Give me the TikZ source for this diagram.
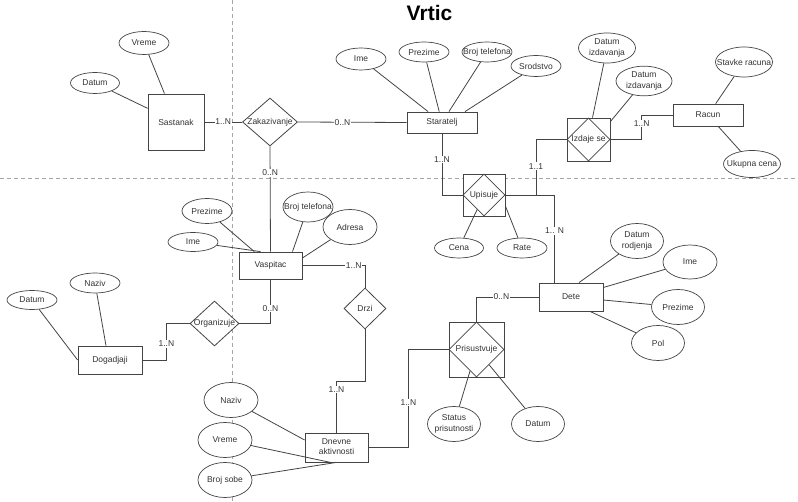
\documentclass[tikz,border=0pt]{standalone}
\usepackage{fontspec}
\setmainfont{Liberation Sans}
\usetikzlibrary{shapes.geometric,calc}
\definecolor{txt}{HTML}{333333}
\definecolor{ln}{HTML}{444444}
\newcommand{\twol}[2]{\makebox[0pt]{\begin{tabular}{@{}c@{}}#1\\#2\end{tabular}}}
\newcommand{\zb}[1]{\makebox[0pt]{#1}}
\begin{document}
\begin{tikzpicture}[x=1pt,y=-1pt,
  every node/.style={font=\fontsize{8.5}{10.5}\selectfont, text=txt},
  ent/.style={draw=ln, fill=white, rectangle, inner sep=0pt, line width=0.8pt},
  attr/.style={draw=ln, fill=white, ellipse, inner sep=0pt, line width=0.7pt},
  rel/.style={draw=ln, fill=white, diamond, inner sep=0pt, aspect=1, line width=0.8pt},
  wbox/.style={draw=ln, fill=white, rectangle, inner sep=0pt, line width=0.8pt},
  lbl/.style={fill=white, inner sep=0.8pt},
  conn/.style={draw=ln, line width=0.8pt},
  gridline/.style={draw=black!35, dash pattern=on 4pt off 3pt, line width=0.6pt}
]
\useasboundingbox (0,0) rectangle (798,502);
% guide lines
\draw[gridline] (232,0) -- (232,502);
\draw[gridline] (0,178) -- (798,178);
% title
\node[font=\bfseries\fontsize{21}{24}\selectfont, text=black, anchor=base] (title) at (429.5,20.7) {Vrtic};
% entities
\node[ent, minimum width=56pt, minimum height=56pt] (sastanak) at (176,122) {Sastanak};
\node[ent, minimum width=70pt, minimum height=21pt] (staratelj) at (442,122.5) {Staratelj};
\node[ent, minimum width=70pt, minimum height=22pt] (racun) at (708,115) {Racun};
\node[ent, minimum width=63pt, minimum height=27pt] (vaspitac) at (270.5,265.5) {Vaspitac};
\node[ent, minimum width=64pt, minimum height=28pt] (dete) at (571,297) {Dete};
\node[ent, minimum width=64pt, minimum height=28pt] (dogadjaji) at (110,360) {Dogadjaji};
\node[ent, minimum width=63pt, minimum height=29pt] (dnevne) at (336.5,447.5) {\twol{Dnevne}{aktivnosti}};
% relationships
\node[rel, minimum width=55pt, minimum height=48pt] (zak) at (270,122) {\zb{Zakazivanje}};
\node[rel, minimum width=42pt, minimum height=41pt] (drzi) at (365,308.5) {\zb{Drzi}};
\node[rel, minimum width=49pt, minimum height=45pt] (org) at (214.5,323.5) {\zb{Organizuje}};
\node[wbox, minimum width=43pt, minimum height=43pt] (izdajeB) at (588.5,139.5) {};
\node[rel, fill=none, minimum width=43pt, minimum height=43pt] (izdaje) at (izdajeB) {\zb{Izdaje se}};
\node[wbox, minimum width=42pt, minimum height=42pt] (upisujeB) at (484,195) {};
\node[rel, fill=none, minimum width=42pt, minimum height=42pt] (upisuje) at (upisujeB) {\zb{Upisuje}};
\node[wbox, minimum width=55pt, minimum height=55pt] (prisB) at (476.5,349.5) {};
\node[rel, fill=none, minimum width=55pt, minimum height=55pt] (pris) at (prisB) {\zb{Prisustvuje}};
% attributes
\node[attr, minimum width=50pt, minimum height=23pt] (a1) at (144,43) {\zb{Vreme}};
\node[attr, minimum width=49pt, minimum height=21pt] (a2) at (95,83) {\zb{Datum}};
\node[attr, minimum width=50pt, minimum height=22pt] (a3) at (361,59) {\zb{Ime}};
\node[attr, minimum width=50pt, minimum height=20pt] (a4) at (424,52) {\zb{Prezime}};
\node[attr, minimum width=50pt, minimum height=20pt] (a5) at (487,52) {\zb{Broj telefona}};
\node[attr, minimum width=50pt, minimum height=21pt] (a6) at (536,66) {\zb{Srodstvo}};
\node[attr, minimum width=57pt, minimum height=30pt] (a7) at (607,48) {\twol{Datum}{izdavanja}};
\node[attr, minimum width=56pt, minimum height=26pt] (a8) at (644,81) {\twol{Datum}{izdavanja}};
\node[attr, minimum width=57pt, minimum height=30pt] (a9) at (744,62) {\zb{Stavke racuna}};
\node[attr, minimum width=57pt, minimum height=27pt] (a10) at (752,164) {\zb{Ukupna cena}};
\node[attr, minimum width=50pt, minimum height=25pt] (a11) at (207,211) {\zb{Prezime}};
\node[attr, minimum width=50pt, minimum height=19pt] (a12) at (193,242) {\zb{Ime}};
\node[attr, minimum width=50pt, minimum height=30pt] (a13) at (308,207) {\zb{Broj telefona}};
\node[attr, minimum width=54pt, minimum height=35pt] (a14) at (350,227) {\zb{Adresa}};
\node[attr, minimum width=50pt, minimum height=19pt] (a15) at (32,300) {\zb{Datum}};
\node[attr, minimum width=50pt, minimum height=20pt] (a16) at (95,283) {\zb{Naziv}};
\node[attr, minimum width=49pt, minimum height=20pt] (a17) at (459,248) {\zb{Cena}};
\node[attr, minimum width=50pt, minimum height=20pt] (a18) at (522,248) {\zb{Rate}};
\node[attr, minimum width=53pt, minimum height=35pt] (a19) at (637,241) {\twol{Datum}{rodjenja}};
\node[attr, minimum width=54pt, minimum height=34pt] (a20) at (690,262) {\zb{Ime}};
\node[attr, minimum width=53pt, minimum height=35pt] (a21) at (678,307) {\zb{Prezime}};
\node[attr, minimum width=53pt, minimum height=35pt] (a22) at (658,343) {\zb{Pol}};
\node[attr, minimum width=54pt, minimum height=35pt] (a23) at (231,400) {\zb{Naziv}};
\node[attr, minimum width=54pt, minimum height=35pt] (a24) at (225,440) {\zb{Vreme}};
\node[attr, minimum width=54pt, minimum height=35pt] (a25) at (225,480) {\zb{Broj sobe}};
\node[attr, minimum width=53pt, minimum height=35pt] (a26) at (454,424) {\twol{Status}{prisutnosti}};
\node[attr, minimum width=53pt, minimum height=35pt] (a27) at (538,424) {\zb{Datum}};
% attribute links
\draw[conn] (a1) -- (sastanak);
\draw[conn] (a2) -- (sastanak);
\draw[conn] (a3) -- (staratelj);
\draw[conn] (a4) -- (staratelj);
\draw[conn] (a5) -- (staratelj);
\draw[conn] (a6) -- ([xshift=23pt]staratelj.north);
\draw[conn] (a7) -- ([xshift=4pt]izdajeB.north);
\draw[conn] (a8) -- ([yshift=-4pt]izdajeB.north east);
\draw[conn] (a9) -- (racun);
\draw[conn] (a10) -- (racun);
\draw[conn] (a11) -- (vaspitac);
\draw[conn] (a12) -- ([xshift=-10pt]vaspitac.north);
\draw[conn] (a13) -- ([xshift=22pt]vaspitac.north);
\draw[conn] (a14) -- ([yshift=7.5pt]vaspitac.east);
\draw[conn] (a15) -- (dogadjaji.west);
\draw[conn] (a16) -- ([xshift=-4pt]dogadjaji.north);
\draw[conn] (a17) -- (upisuje);
\draw[conn] (a18) -- ([yshift=-11pt]upisujeB.east);
\draw[conn] (a19) -- ([xshift=8pt]dete.north);
\draw[conn] (a20) -- (dete);
\draw[conn] (a21) -- (dete);
\draw[conn] (a22) -- ([xshift=19pt]dete.south);
\draw[conn] (a23) -- ([yshift=7.5pt]dnevne.west);
\draw[conn] (a24) -- ([xshift=-6pt]dnevne.south);
\draw[conn] (a25) -- (dnevne.south);
\draw[conn] (a26) -- (pris);
\draw[conn] (a27) -- (pris);
% relationship links
\draw[conn] (sastanak.east) -- node[lbl]{1..N} (zak.west);
\draw[conn] (zak.east) -- node[lbl,pos=0.41]{0..N} (staratelj.west);
\draw[conn] (zak.south) -- node[lbl,pos=0.25]{0..N} (vaspitac.north);
\draw[conn] (staratelj.south) |- node[lbl,pos=0.21]{1..N} (upisujeB.west);
\coordinate (c1) at (536,195);
\draw[conn] (izdajeB.west) -| node[lbl,pos=0.74]{1..1} (c1) -- (upisujeB.east);
\draw[conn] (izdajeB.east) -| node[lbl,pos=0.83]{1..N} ([xshift=-31pt]racun.west) -- (racun.west);
\draw[conn] (upisujeB.east) -| node[lbl,pos=0.705]{1.. N} ([xshift=16pt]dete.north west);
\draw[conn] (dete.west) -| node[lbl,pos=0.3]{0..N} (prisB.north);
\draw[conn] (prisB.west) -| node[lbl,pos=0.77]{1..N} ([xshift=40pt]dnevne.east) -- (dnevne.east);
\draw[conn] (vaspitac.east) -| node[lbl,pos=0.41]{1..N} (drzi.north);
\draw[conn] (drzi.south) |- ([yshift=51pt]dnevne.north) -- node[lbl,pos=0.16]{1..N} (dnevne.north);
\draw[conn] (vaspitac.south) |- node[lbl,pos=0.33]{0..N} (org.east);
\draw[conn] (org.west) -| node[lbl,pos=0.78]{1..N} ([xshift=24pt]dogadjaji.east) -- (dogadjaji.east);
\end{tikzpicture}
\end{document}
